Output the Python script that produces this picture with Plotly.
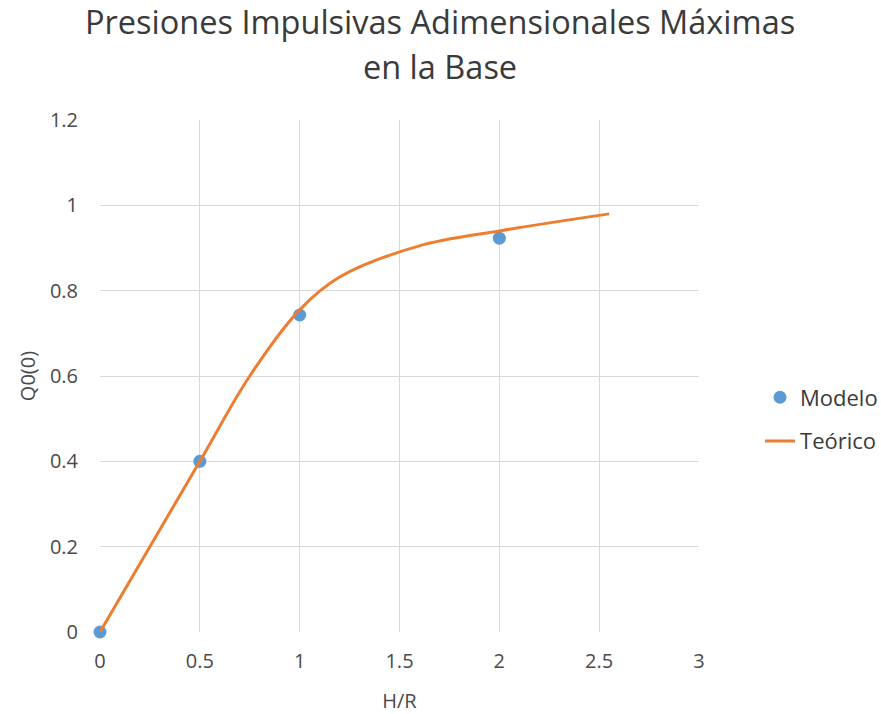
import plotly.graph_objects as go

# Measured points (Modelo)
modelo_x = [0, 0.5, 1, 2]
modelo_y = [0, 0.4, 0.743, 0.923]

# Theoretical curve (Teórico)
teorico_x = [0, 0.5, 0.75, 1.0, 1.2, 1.6, 2.0, 2.55]
teorico_y = [0, 0.4, 0.6, 0.755, 0.832, 0.905, 0.94, 0.98]

x_ticks = [0, 0.5, 1, 1.5, 2, 2.5, 3]
y_ticks = [0, 0.2, 0.4, 0.6, 0.8, 1, 1.2]

title_lines = ["Presiones Impulsivas Adimensionales Máximas", "en la Base"]

FONT = "Open Sans"
GRID = "#D9D9D9"
TXT = "#4a4a4a"
TITLE_C = "#3a3a3a"

fig = go.Figure()
fig.add_trace(go.Scatter(
    x=modelo_x, y=modelo_y, mode="markers", name="Modelo",
    marker=dict(color="#5B9BD5", size=13),
    legendgroup="a", cliponaxis=False,
))
fig.add_trace(go.Scatter(
    x=teorico_x, y=teorico_y, mode="lines", name="Teórico",
    line=dict(color="#ED7D31", width=3, shape="spline", smoothing=1.0),
    legendgroup="b",
))

# Two-line chart title, centred over the whole figure
for txt, yy in zip(title_lines, [1.192, 1.104]):
    fig.add_annotation(
        text=txt, xref="paper", yref="paper", x=0.568, y=yy,
        xanchor="center", yanchor="middle", showarrow=False,
        font=dict(family=FONT, size=32.5, color=TITLE_C),
    )

fig.update_layout(
    width=881, height=714,
    margin=dict(l=100, r=182, t=120, b=82),
    paper_bgcolor="white", plot_bgcolor="white",
    font=dict(family=FONT, color=TXT, size=20),
    xaxis=dict(
        range=[0, 3], tickvals=x_ticks, ticktext=[str(v) for v in x_ticks],
        showgrid=True, gridcolor=GRID, gridwidth=1.3,
        zeroline=False, showline=False, ticks="",
        ticklabelstandoff=15, automargin=False,
        title=dict(text="H/R", font=dict(size=20, color=TXT), standoff=20),
        tickfont=dict(size=20, color=TXT),
    ),
    yaxis=dict(
        range=[0, 1.2], tickvals=y_ticks, ticktext=[str(v) for v in y_ticks],
        showgrid=True, gridcolor=GRID, gridwidth=1.3,
        zeroline=False, showline=False, ticks="",
        ticklabelstandoff=21,
        title=dict(text="Q0(0)", font=dict(size=20, color=TXT), standoff=8),
        tickfont=dict(size=20, color=TXT),
    ),
    legend=dict(
        xref="container", yref="container",
        x=0.8627, xanchor="left", y=0.4125, yanchor="middle",
        font=dict(size=22, color=TITLE_C),
        tracegroupgap=12, bgcolor="rgba(0,0,0,0)",
    ),
)

fig.write_html("out.html")
